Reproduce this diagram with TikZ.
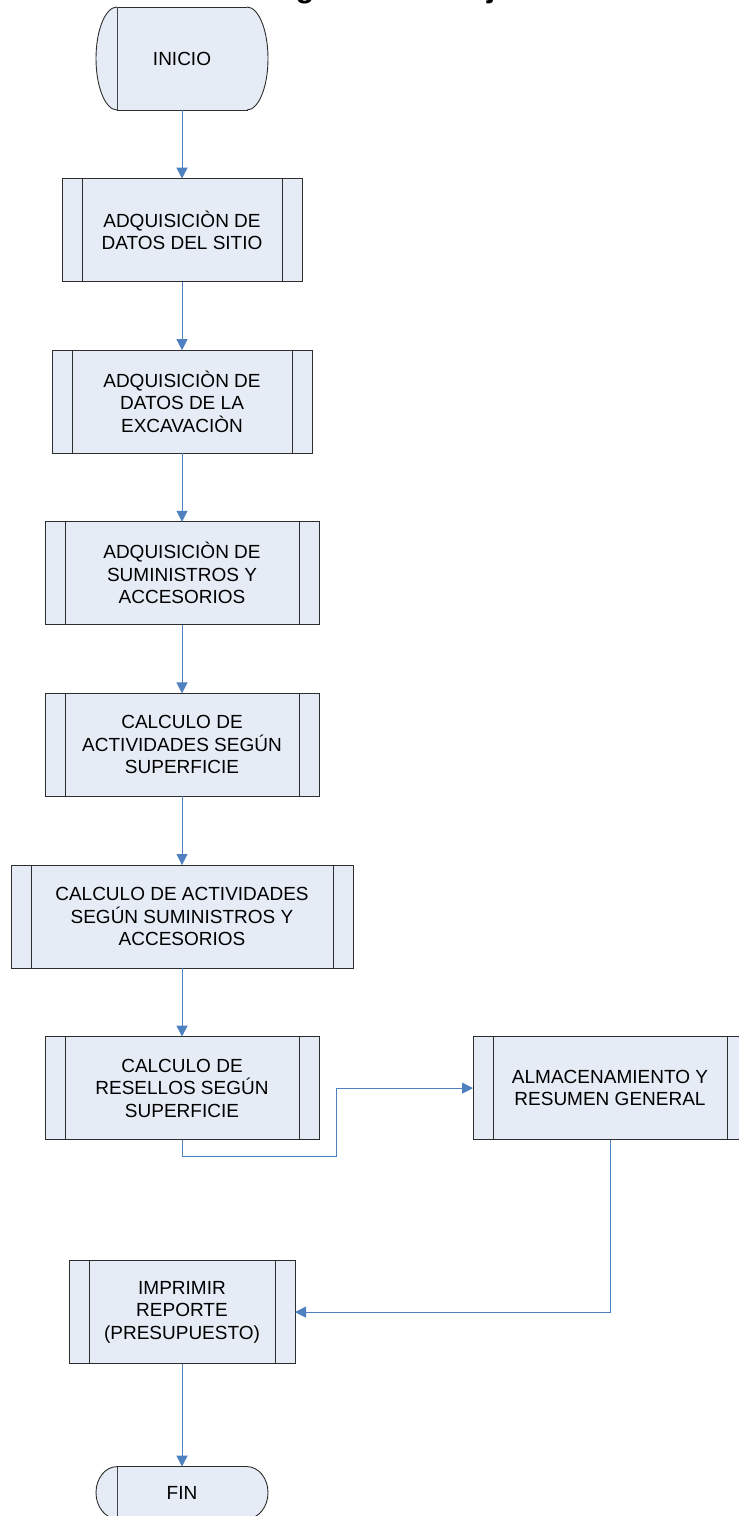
\documentclass[tikz,border=0pt]{standalone}
\usepackage{fontspec}
\setmainfont{Liberation Sans}
\usetikzlibrary{positioning,arrows.meta}

\definecolor{boxfill}{RGB}{230,236,246}
\definecolor{boxline}{RGB}{45,45,45}
\definecolor{flowblue}{RGB}{79,129,193}

\tikzset{
  proc/.style={draw=boxline, fill=boxfill, line width=0.9pt, inner sep=0pt, outer sep=0pt,
    minimum width=#1, minimum height=103pt, align=center,
    font=\fontsize{19}{22.5}\selectfont,
    path picture={
      \draw[boxline, line width=0.9pt]
        ([xshift=20pt]path picture bounding box.north west) -- ([xshift=20pt]path picture bounding box.south west)
        ([xshift=-20pt]path picture bounding box.north east) -- ([xshift=-20pt]path picture bounding box.south east);
    }},
  term/.style={draw=boxline, fill=boxfill, line width=0.9pt, inner sep=0pt, outer sep=0pt,
    minimum width=130pt, minimum height=#1, font=\fontsize{19}{22.5}\selectfont},
  termend/.style={draw=boxline, fill=boxfill, line width=0.9pt},
  flow/.style={draw=flowblue, line width=0.8pt, -{Triangle[length=11pt,width=11pt]}}
}

\begin{document}
\begin{tikzpicture}[node distance=68.6pt]

      \useasboundingbox (0,0) rectangle (739pt,-1516pt);

      % Title (cut by the top edge)
      \node[anchor=base, font=\fontsize{30.7}{36}\selectfont\bfseries] (title) at (381pt,2.5pt) {Diagrama de Flujo};

      % Define nodes
	  \node[term=103pt]                         (ini) at (182pt,-58.5pt) {INICIO};
	  \node[proc=240pt, below=of ini]           (sit) {ADQUISICIÒN DE\\DATOS DEL SITIO};
	  \node[proc=260pt, below=of sit]           (exc) {ADQUISICIÒN DE\\DATOS DE LA\\EXCAVACIÒN};
    \node[proc=274pt, below=of exc]           (sum) {ADQUISICIÒN DE\\SUMINISTROS Y\\ACCESORIOS};
    \node[proc=274pt, below=of sum]           (sup) {CALCULO DE\\ACTIVIDADES SEGÚN\\SUPERFICIE};
    \node[proc=342pt, below=of sup]           (acc) {CALCULO DE ACTIVIDADES\\SEGÚN SUMINISTROS Y\\ACCESORIOS};
    \node[proc=274pt, below=of acc]           (res) {CALCULO DE\\RESELLOS SEGÚN\\SUPERFICIE};
    \node[proc=274pt, right=154pt of res]     (alm) {ALMACENAMIENTO Y\\RESUMEN GENERAL};
    \node[proc=226pt, below=121pt of res]     (imp) {IMPRIMIR\\REPORTE\\(PRESUPUESTO)};
    \node[term=52pt, below=103pt of imp]      (fin) {FIN};

      % Rounded ends of the terminals
      \path[termend] (ini.north west) arc[start angle=90, end angle=270, x radius=21pt, y radius=51.5pt];
      \path[termend] (ini.south east) arc[start angle=-90, end angle=90, x radius=21pt, y radius=51.5pt];
      \path[termend] (fin.north west) arc[start angle=90, end angle=270, x radius=21pt, y radius=26pt];
      \path[termend] (fin.south east) arc[start angle=-90, end angle=90, x radius=21pt, y radius=26pt];

	  % Connect the nodes
	  \draw[flow] (ini) -- (sit);
	  \draw[flow] (sit) -- (exc);
	  \draw[flow] (exc) -- (sum);
	  \draw[flow] (sum) -- (sup);
	  \draw[flow] (sup) -- (acc);
	  \draw[flow] (acc) -- (res);
	  \draw[flow] (res.south) -- ++(0,-17pt) -| ([xshift=17pt]res.east) -- (alm.west);
	  \draw[flow] (alm.south) |- (imp.east);
	  \draw[flow] (imp) -- (fin);

	\end{tikzpicture}
\end{document}
